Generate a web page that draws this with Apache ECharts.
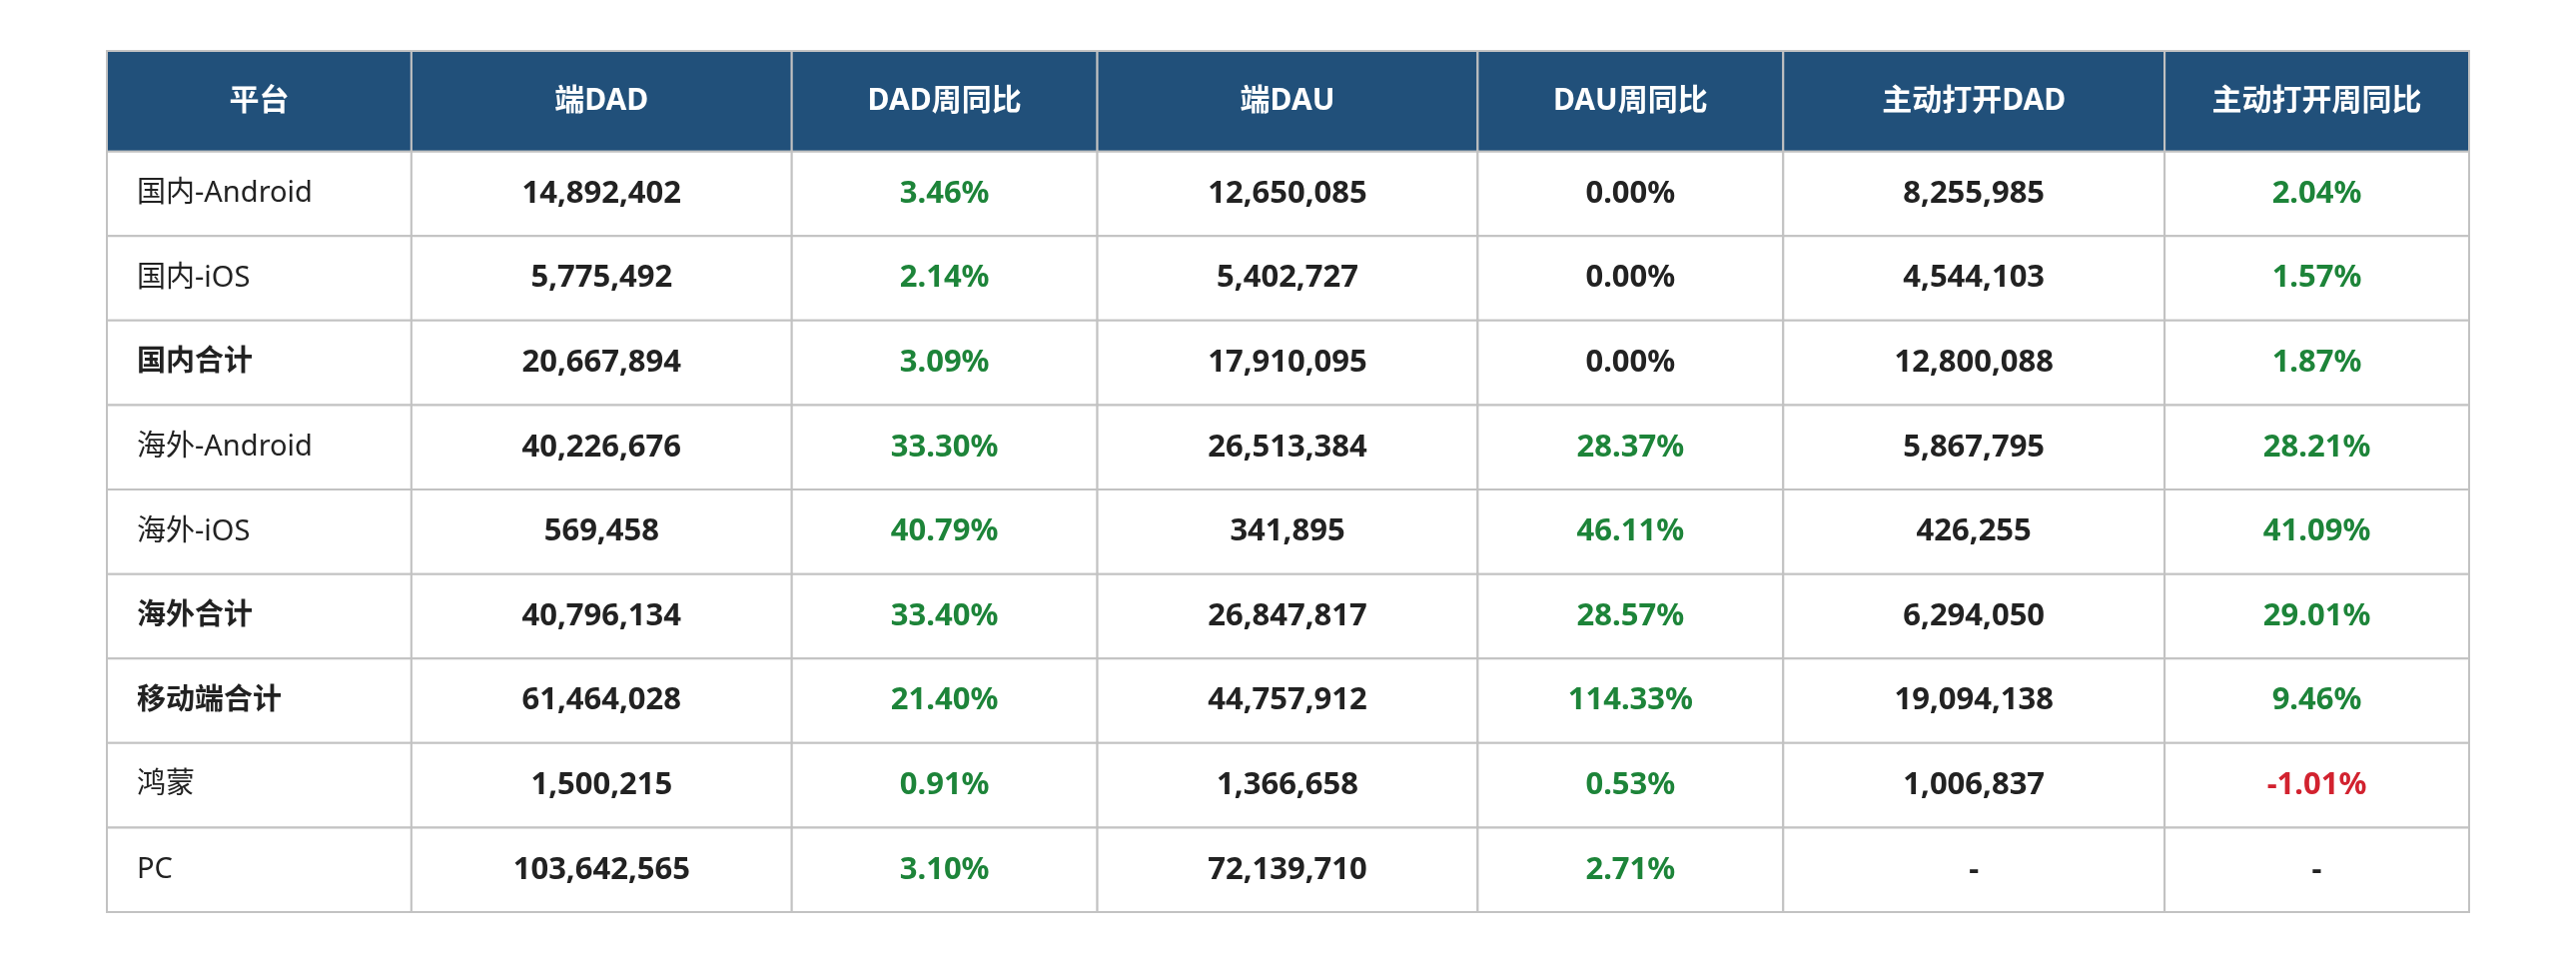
<!DOCTYPE html>
<html lang="zh-CN">
<head>
    <meta charset="UTF-8">
    <title>各端DAD/DAU周同比</title>
    <script src="https://cdn.jsdelivr.net/npm/echarts@6/dist/echarts.min.js"></script>
    <style>
        html, body { margin: 0; padding: 0; background: #fff; }
        #charts { width: 2579px; height: 964px; }
    </style>
</head>
<body>
<div id="charts"></div>
<script>
    // 表头
    var headers = ['平台', '端DAD', 'DAD周同比', '端DAU', 'DAU周同比', '主动打开DAD', '主动打开周同比'];
    // 行
    var platforms = ['国内-Android', '国内-iOS', '国内合计', '海外-Android', '海外-iOS', '海外合计', '移动端合计', '鸿蒙', 'PC'];
    var totalRows = ['国内合计', '海外合计', '移动端合计'];
    // 数据
    var dad = [14892402, 5775492, 20667894, 40226676, 569458, 40796134, 61464028, 1500215, 103642565];
    var dadWow = [3.46, 2.14, 3.09, 33.30, 40.79, 33.40, 21.40, 0.91, 3.10];
    var dau = [12650085, 5402727, 17910095, 26513384, 341895, 26847817, 44757912, 1366658, 72139710];
    var dauWow = [0.00, 0.00, 0.00, 28.37, 46.11, 28.57, 114.33, 0.53, 2.71];
    var activeDad = [8255985, 4544103, 12800088, 5867795, 426255, 6294050, 19094138, 1006837, null];
    var activeWow = [2.04, 1.57, 1.87, 28.21, 41.09, 29.01, 9.46, -1.01, null];

    var columns = [platforms, dad, dadWow, dau, dauWow, activeDad, activeWow];
    var isRate = [false, false, true, false, true, false, true];

    // 列宽、行高 (轴单位)
    var colWidths = [305, 381, 306, 381, 306, 382, 305];
    var headerH = 1.19;
    var colEdges = [0];
    colWidths.forEach(function (w, i) { colEdges.push(colEdges[i] + w); });
    var rowEdges = [0, headerH];
    platforms.forEach(function (p, i) { rowEdges.push(rowEdges[i + 1] + 1); });

    var font = "'Noto Sans', 'Noto Sans CJK SC', sans-serif";
    var green = '#1d8439', red = '#d2222f', dark = '#222222';

    function fmtNum(v) {
        return v.toString().replace(/\B(?=(\d{3})+(?!\d))/g, ',');
    }

    var cells = [];
    headers.forEach(function (h, c) {
        cells.push({c: c, r: 0, text: h, header: true, size: 30});
    });
    platforms.forEach(function (p, r) {
        columns.forEach(function (col, c) {
            var v = col[r], text, color = dark, bold = true, size = 31;
            if (c === 0) {
                text = v;
                bold = totalRows.indexOf(v) >= 0;
                size = 29;
            } else if (v === null) {
                text = '-';
            } else if (isRate[c]) {
                text = v.toFixed(2) + '%';
                color = v > 0 ? green : (v < 0 ? red : dark);
            } else {
                text = fmtNum(v);
            }
            cells.push({c: c, r: r + 1, text: text, color: color, bold: bold, size: size});
        });
    });

    var myChart = echarts.init(document.getElementById('charts'));
    var option = {
        animation: false,
        grid: {left: 107, right: 107, top: 51, bottom: 51},
        xAxis: {type: 'value', min: 0, max: colEdges[colEdges.length - 1], show: false},
        yAxis: {type: 'value', min: 0, max: rowEdges[rowEdges.length - 1], inverse: true, show: false},
        series: [{
            type: 'custom',
            silent: true,
            data: cells.map(function (d) { return [d.c, d.r]; }),
            encode: {x: 0, y: 1},
            renderItem: function (params, api) {
                var d = cells[params.dataIndex];
                var p0 = api.coord([colEdges[d.c], rowEdges[d.r]]);
                var p1 = api.coord([colEdges[d.c + 1], rowEdges[d.r + 1]]);
                var w = p1[0] - p0[0], h = p1[1] - p0[1];
                var left = d.c === 0 && !d.header;
                return {
                    type: 'group',
                    children: [{
                        type: 'rect',
                        shape: {x: p0[0], y: p0[1], width: w, height: h},
                        style: {fill: d.header ? '#21507a' : '#ffffff', stroke: '#c2c2c2', lineWidth: 2}
                    }, {
                        type: 'text',
                        style: {
                            text: d.text,
                            x: left ? p0[0] + 30 : p0[0] + w / 2,
                            y: p0[1] + h / 2,
                            align: left ? 'left' : 'center',
                            verticalAlign: 'middle',
                            fontFamily: font,
                            fontSize: d.size,
                            fontWeight: d.header || d.bold ? 'bold' : 'normal',
                            fill: d.header ? '#ffffff' : d.color
                        }
                    }]
                };
            }
        }]
    };
    myChart.setOption(option, true);
</script>
</body>
</html>
